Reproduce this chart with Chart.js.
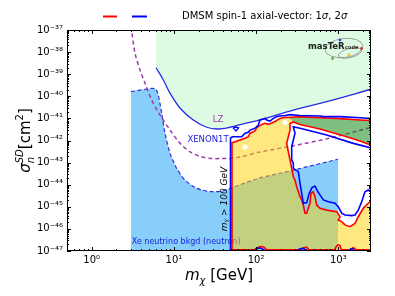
<!DOCTYPE html>
<html><head><meta charset="utf-8">
<script src="https://cdn.jsdelivr.net/npm/chart.js@4/dist/chart.umd.min.js"></script>
<style>html,body{margin:0;padding:0;background:#fff}</style>
</head><body>
<canvas id="c" width="395" height="296"></canvas>
<script>
// ---------------- data (mass in GeV, log10 of sigma in cm^2) ----------------
const xTickValues = [1, 10, 100, 1000];
const yTickExponents = [-47, -46, -45, -44, -43, -42, -41, -40, -39, -38, -37];

// XENON1T limit (solid blue), excluded region above
const xenonMass = [6.06, 7.43, 8.97, 11.9, 17.2, 25.1, 33.2, 48.1, 69.9, 111.5, 283.6, 722.6, 2500];
const xenonLogSigma = [-38.71, -39.26, -39.86, -40.54, -41.07, -41.40, -41.48, -41.40, -41.25, -41.07, -40.62, -40.24, -39.68];

// LZ projection (purple dashed)
const lzMass = [3.01, 3.05, 3.36, 3.87, 4.45, 5.37, 6.78, 8.97, 11.9, 15.7, 20.8, 27.5, 36.4, 48.1, 63.7, 111.5, 258.5, 792.5, 2500];
const lzLogSigma = [-36.85, -37.0, -38.05, -38.81, -39.41, -40.17, -40.85, -41.53, -42.13, -42.51, -42.72, -42.81, -42.82, -42.81, -42.75, -42.52, -42.27, -41.89, -41.41];

// Xe neutrino background (neutron)
const nuMass = [3.01, 5.37, 5.97, 6.35, 6.64, 7.10, 7.79, 8.97, 10.8, 13.6, 18.9, 27.5, 38.5, 49.5, 105.5, 258.5, 314.5, 991.7];
const nuLogSigma = [-39.79, -39.64, -39.67, -39.85, -40.17, -40.77, -41.67, -42.58, -43.26, -43.79, -44.16, -44.31, -44.29, -44.15, -43.72, -43.38, -43.30, -42.85];

// DMSM 1 sigma region (red contour), main part
const mainMass = [50.9, 50.9, 63.7, 73.3, 80.4, 84.3, 97.0, 101.7, 117.0, 128.3, 140.8, 169.8, 195.4, 224.7, 251.3, 283.6, 258.5, 258.5, 246.5, 235.7, 246.5, 258.5, 271.1, 283.6, 297.4, 311.9, 342.0, 358.7, 375.2, 393.4, 412.6, 431.5, 452.5, 465.4, 496.4, 520.5, 546.1, 598.9, 722.6, 956, 1049, 1000, 1100, 1206, 1388, 1597, 1751, 2014, 2317, 2650, 2650];
const mainLogSigma = [-47.1, -42.11, -41.98, -41.90, -41.83, -41.67, -41.57, -41.42, -41.27, -41.22, -41.27, -41.14, -41.00, -40.95, -40.96, -41.16, -41.23, -41.53, -41.83, -42.13, -42.51, -42.88, -43.26, -43.64, -43.79, -44.09, -44.54, -44.69, -44.92, -45.29, -45.29, -45.07, -44.84, -44.39, -44.32, -44.54, -44.92, -45.07, -45.15, -45.22, -45.45, -45.60, -45.67, -45.82, -45.90, -45.75, -45.45, -45.07, -44.84, -44.65, -47.1];

// DMSM 1 sigma region, high-mass wedge
const wedgeMass = [251.3, 342.0, 598.9, 956, 1837, 2650, 2650, 1837, 1265, 598.9, 342.0, 283.6];
const wedgeLogSigma = [-40.96, -40.92, -40.97, -41.00, -41.07, -41.10, -42.25, -42.02, -41.83, -41.48, -41.28, -41.16];

// DMSM 2 sigma contour (blue)
const blueMass = [48.8, 48.8, 51.3, 66.8, 73.3, 80.4, 84.3, 97.0, 106.4, 111.5, 122.4, 128.3, 134.6, 147.6, 161.9, 178.1, 195.4, 224.7, 258.5, 342.0, 598.9, 657, 1049, 1837, 2650, 2650, 1522, 722.6, 342.0, 283.6, 297.4, 283.6, 271.1, 271.1, 283.6, 283.6, 326.2, 342.0, 358.7, 375.2, 412.6, 440.1, 478.6, 520.5, 566.2, 615.9, 657, 755.6, 911.8, 1000, 1100, 1206, 1455, 1597, 1751, 1926, 2113, 2317, 2650];
const blueLogSigma = [-47.1, -41.89, -41.83, -41.83, -41.67, -41.63, -41.53, -41.45, -41.30, -41.07, -41.03, -41.00, -41.07, -41.12, -41.00, -40.92, -40.89, -40.87, -40.83, -40.87, -40.89, -40.92, -40.92, -40.97, -41.01, -42.36, -42.13, -41.75, -41.45, -41.38, -41.67, -41.98, -42.28, -42.88, -43.03, -43.26, -43.41, -43.94, -44.39, -44.84, -44.81, -44.42, -44.13, -44.06, -44.33, -44.53, -44.69, -44.77, -44.84, -45.00, -45.29, -45.37, -45.40, -45.37, -45.15, -44.77, -44.32, -44.24, -44.42];

// small 2 sigma island
const isleMass = [52.4, 56.9, 61.1, 56.9, 52.4];
const isleLogSigma = [-41.43, -41.57, -41.43, -41.39, -41.43];

// contour pieces along the lower edge
const redBottomMass = [50.9, 95, 100, 108, 117, 126, 135, 300, 330, 375, 412, 440, 900, 950, 990, 1040, 1090, 1400, 1500, 1580, 1650, 2650];
const redBottomLogSigma = [-46.95, -46.95, -46.88, -46.82, -46.80, -46.84, -46.95, -46.95, -46.95, -46.86, -46.83, -46.95, -46.95, -46.78, -46.72, -46.74, -46.95, -46.95, -46.86, -46.88, -46.95, -46.95];
const blueBottomMass = [48.8, 96, 102, 110, 118, 130, 310, 345, 380, 410, 1350, 1420, 1500, 1560, 2650];
const blueBottomLogSigma = [-47.0, -47.0, -46.9, -46.86, -46.9, -47.0, -47.0, -46.9, -46.88, -47.0, -47.0, -46.9, -46.9, -47.0, -47.0];

// best-fit markers
const bestMass = [73.3, 224.7];
const bestLogSigma = [-42.29, -41.19];

// ---------------- helpers ----------------
const toPts = (ms, ss) => ms.map((m, i) => ({x: m, y: Math.pow(10, ss[i])}));
const SUP = {'-':'\u207B','0':'\u2070','1':'\u00B9','2':'\u00B2','3':'\u00B3','4':'\u2074','5':'\u2075','6':'\u2076','7':'\u2077','8':'\u2078','9':'\u2079'};
const sup = n => String(n).split('').map(c => SUP[c]).join('');
const F = '"DejaVu Sans", "Liberation Sans", sans-serif';

const redOutlineMass = mainMass.slice(0, 15).concat(wedgeMass.slice(1), mainMass.slice(16));
const redOutlineLog = mainLogSigma.slice(0, 15).concat(wedgeLogSigma.slice(1), mainLogSigma.slice(16));

const labelAnchors = {
  lz: {m: 34.4, s: -41.07},
  xenon: {m: 26.0, s: -41.95},
  nu: {m: 3.07, s: -46.57},
  mY: {m: 44.3, s: -44.65}
};

function drawRuns(ctx, runs, x, y) {
  let cx = x;
  for (const r of runs) {
    ctx.font = r.f;
    ctx.fillText(r.t, cx, y + (r.dy || 0));
    if (r.adv !== 0) cx += ctx.measureText(r.t).width;
  }
  return cx - x;
}
function measureRuns(ctx, runs) {
  let w = 0;
  for (const r of runs) { ctx.font = r.f; if (r.adv !== 0) w += ctx.measureText(r.t).width; }
  return w;
}

const decor = {
  id: 'decor',
  afterDatasetDraw(chart, args) {
    if (args.index !== 0) return;
    const {ctx, scales: {x, y}} = chart;
    ctx.save();
    ctx.font = '8px ' + F; ctx.fillStyle = '#2020e0';
    ctx.textAlign = 'left'; ctx.textBaseline = 'middle';
    ctx.fillText('Xe neutrino bkgd (neutron)', x.getPixelForValue(labelAnchors.nu.m), y.getPixelForValue(Math.pow(10, labelAnchors.nu.s)));
    ctx.restore();
  },
  afterDatasetsDraw(chart) {
    const {ctx, chartArea: a, scales: {x, y}} = chart;
    ctx.save();
    ctx.textAlign = 'center'; ctx.textBaseline = 'middle';
    ctx.font = '8.5px ' + F; ctx.fillStyle = '#9a3aa8';
    ctx.fillText('LZ', x.getPixelForValue(labelAnchors.lz.m), y.getPixelForValue(Math.pow(10, labelAnchors.lz.s)));
    ctx.fillStyle = '#2020e0';
    ctx.fillText('XENON1T', x.getPixelForValue(labelAnchors.xenon.m), y.getPixelForValue(Math.pow(10, labelAnchors.xenon.s)));
    // m_Y > 100 GeV rotated
    ctx.textAlign = 'left'; ctx.textBaseline = 'alphabetic'; ctx.fillStyle = '#000';
    const mr = [{t:'m', f:'italic 9px ' + F}, {t:'Y', f:'italic 6px ' + F, dy: 2}, {t:' > 100 GeV', f:'italic 9px ' + F}];
    ctx.save();
    ctx.translate(x.getPixelForValue(labelAnchors.mY.m), y.getPixelForValue(Math.pow(10, labelAnchors.mY.s)));
    ctx.rotate(-Math.PI / 2);
    drawRuns(ctx, mr, -measureRuns(ctx, mr) / 2, 0);
    ctx.restore();
    // MasterCode logo
    ctx.strokeStyle = '#8a8a8a'; ctx.lineWidth = 0.8;
    ctx.beginPath(); ctx.ellipse(a.right - 27, a.top + 18, 19, 9.5, -0.12, 0, 2 * Math.PI); ctx.stroke();
    ctx.beginPath(); ctx.ellipse(a.right - 21, a.top + 23, 12, 4.5, -0.25, 0, 2 * Math.PI); ctx.stroke();
    const dots = [[-31, 10, '#3050e0'], [-9.5, 18.5, '#e03020'], [-22, 25, '#f0c020'], [-38.5, 28.5, '#60b040']];
    for (const d of dots) { ctx.fillStyle = d[2]; ctx.beginPath(); ctx.arc(a.right + d[0], a.top + d[1], 1.4, 0, 2 * Math.PI); ctx.fill(); }
    ctx.fillStyle = '#222';
    ctx.font = 'bold 8.5px ' + F; ctx.fillText('masTeR', a.right - 63, a.top + 18.5);
    ctx.font = 'bold 5px ' + F; ctx.fillText('code', a.right - 26, a.top + 18.5);
    // ticks (inward, all four sides)
    ctx.strokeStyle = '#000'; ctx.lineWidth = 1;
    ctx.beginPath();
    for (let d = -1; d <= 3; d++) for (let k = 1; k <= 9; k++) {
      const v = k * Math.pow(10, d);
      if (v < 0.5 || v > 2500) continue;
      const px = Math.round(x.getPixelForValue(v)) + 0.5, len = k === 1 ? 4 : 2;
      ctx.moveTo(px, a.bottom); ctx.lineTo(px, a.bottom - len);
      ctx.moveTo(px, a.top); ctx.lineTo(px, a.top + len);
    }
    for (let e = -47; e <= -37; e++) for (let k = 1; k <= 9; k++) {
      if (e === -37 && k > 1) continue;
      const py = Math.round(y.getPixelForValue(k * Math.pow(10, e))) + 0.5, len = k === 1 ? 4 : 2;
      ctx.moveTo(a.left, py); ctx.lineTo(a.left + len, py);
      ctx.moveTo(a.right, py); ctx.lineTo(a.right - len, py);
    }
    ctx.stroke();
    ctx.strokeRect(Math.round(a.left) + 0.5, Math.round(a.top) + 0.5, Math.round(a.right - a.left) - 1, Math.round(a.bottom - a.top) - 1);
    ctx.restore();
  },
  afterDraw(chart) {
    const {ctx, chartArea: a} = chart;
    ctx.save();
    ctx.fillStyle = '#000'; ctx.textAlign = 'left'; ctx.textBaseline = 'alphabetic';
    // x title
    const xr = [{t:'m', f:'italic 15px ' + F}, {t:'\u03C7', f:'italic 10px ' + F, dy: 4}, {t:' [GeV]', f:'15px ' + F}];
    drawRuns(ctx, xr, (a.left + a.right) / 2 - measureRuns(ctx, xr) / 2, 280);
    // y title
    const yr = [{t:'\u03C3', f:'italic 15px ' + F}, {t:'n', f:'italic 10px ' + F, dy: 4, adv: 0}, {t:'SD', f:'italic 10px ' + F, dy: -7}, {t:'[cm', f:'15px ' + F}, {t:'2', f:'10px ' + F, dy: -7}, {t:']', f:'15px ' + F}];
    ctx.save();
    ctx.translate(30, (a.top + a.bottom) / 2);
    ctx.rotate(-Math.PI / 2);
    drawRuns(ctx, yr, -measureRuns(ctx, yr) / 2, 0);
    ctx.restore();
    // legend
    ctx.lineWidth = 2;
    ctx.strokeStyle = '#ff0000'; ctx.beginPath(); ctx.moveTo(103, 16.5); ctx.lineTo(117, 16.5); ctx.stroke();
    ctx.strokeStyle = '#0000ff'; ctx.beginPath(); ctx.moveTo(132, 16.5); ctx.lineTo(147, 16.5); ctx.stroke();
    ctx.textBaseline = 'middle';
    drawRuns(ctx, [{t:'DMSM spin-1 axial-vector: 1', f:'10px ' + F}, {t:'\u03C3', f:'italic 10px ' + F}, {t:', 2', f:'10px ' + F}, {t:'\u03C3', f:'italic 10px ' + F}], 182, 16.5);
    ctx.restore();
  }
};

const noLine = 'rgba(0,0,0,0)';
const datasets = [
  {label: 'Xe neutrino bkgd (neutron)', data: toPts(nuMass, nuLogSigma), fill: 'start', backgroundColor: 'rgb(135,206,250)',
   borderColor: 'rgb(50,50,220)', borderWidth: 1.2, borderDash: [4, 2.5], tension: 0.25, order: 10},
  {label: 'XENON1T', data: toPts(xenonMass, xenonLogSigma), fill: 'end', backgroundColor: 'rgb(221,250,226)',
   borderColor: '#2a2ae6', borderWidth: 1.3, tension: 0.35, order: 9},
  {label: 'LZ', data: toPts(lzMass, lzLogSigma), fill: false, borderColor: '#9e3cac', borderWidth: 1.5, borderDash: [4, 3], tension: 0.3, order: 8},
  {label: '1σ region', data: toPts(mainMass, mainLogSigma), fill: 'shape', backgroundColor: 'rgba(255,210,0,0.5)', borderColor: noLine, borderWidth: 0, tension: 0, order: 7},
  {label: '1σ wedge', data: toPts(wedgeMass, wedgeLogSigma), fill: 'shape', backgroundColor: 'rgba(0,128,0,0.5)', borderColor: noLine, borderWidth: 0, tension: 0, order: 6},
  {label: '1σ', data: toPts(redOutlineMass, redOutlineLog), fill: false, borderColor: '#ff0000', borderWidth: 1.6, tension: 0, order: 5},
  {label: '1σ edge', data: toPts(redBottomMass, redBottomLogSigma), fill: false, borderColor: '#ff0000', borderWidth: 1.6, tension: 0, order: 5},
  {label: '2σ', data: toPts(blueMass, blueLogSigma), fill: false, borderColor: '#0000ff', borderWidth: 1.6, tension: 0, order: 4},
  {label: '2σ edge', data: toPts(blueBottomMass, blueBottomLogSigma), fill: false, borderColor: '#0000ff', borderWidth: 1.6, tension: 0, order: 4},
  {label: '2σ island', data: toPts(isleMass, isleLogSigma), fill: false, borderColor: '#0000ff', borderWidth: 1.3, tension: 0, order: 4},
  {label: 'best fit', data: toPts(bestMass, bestLogSigma), showLine: false, pointRadius: 2.5, pointBackgroundColor: '#ffffff', pointBorderWidth: 0, order: 1}
];

new Chart(document.getElementById('c'), {
  type: 'line',
  data: {datasets},
  options: {
    responsive: false, animation: false, events: [],
    layout: {padding: {left: 0, right: 24, top: 30, bottom: 0}},
    elements: {point: {radius: 0, hoverRadius: 0}},
    plugins: {legend: {display: false}, tooltip: {enabled: false}, title: {display: false}},
    scales: {
      x: {
        type: 'logarithmic', min: 0.5, max: 2500,
        afterBuildTicks: s => { s.ticks = xTickValues.map(v => ({value: v})); },
        afterFit: s => { s.height = 45; },
        grid: {display: false, drawTicks: false}, border: {display: false},
        ticks: {autoSkip: false, maxRotation: 0, padding: 3, color: '#000', font: {family: 'DejaVu Sans', size: 10},
                callback: v => '10' + sup(Math.round(Math.log10(v)))}
      },
      y: {
        type: 'logarithmic', min: 1e-47, max: 1e-37,
        afterBuildTicks: s => { s.ticks = yTickExponents.map(e => ({value: Math.pow(10, e)})); },
        afterFit: s => { s.width = 67; },
        grid: {display: false, drawTicks: false}, border: {display: false},
        ticks: {autoSkip: false, padding: 4, color: '#000', font: {family: 'DejaVu Sans', size: 10},
                callback: v => '10' + sup(Math.round(Math.log10(v)))}
      }
    }
  },
  plugins: [decor]
});
</script>
</body></html>
